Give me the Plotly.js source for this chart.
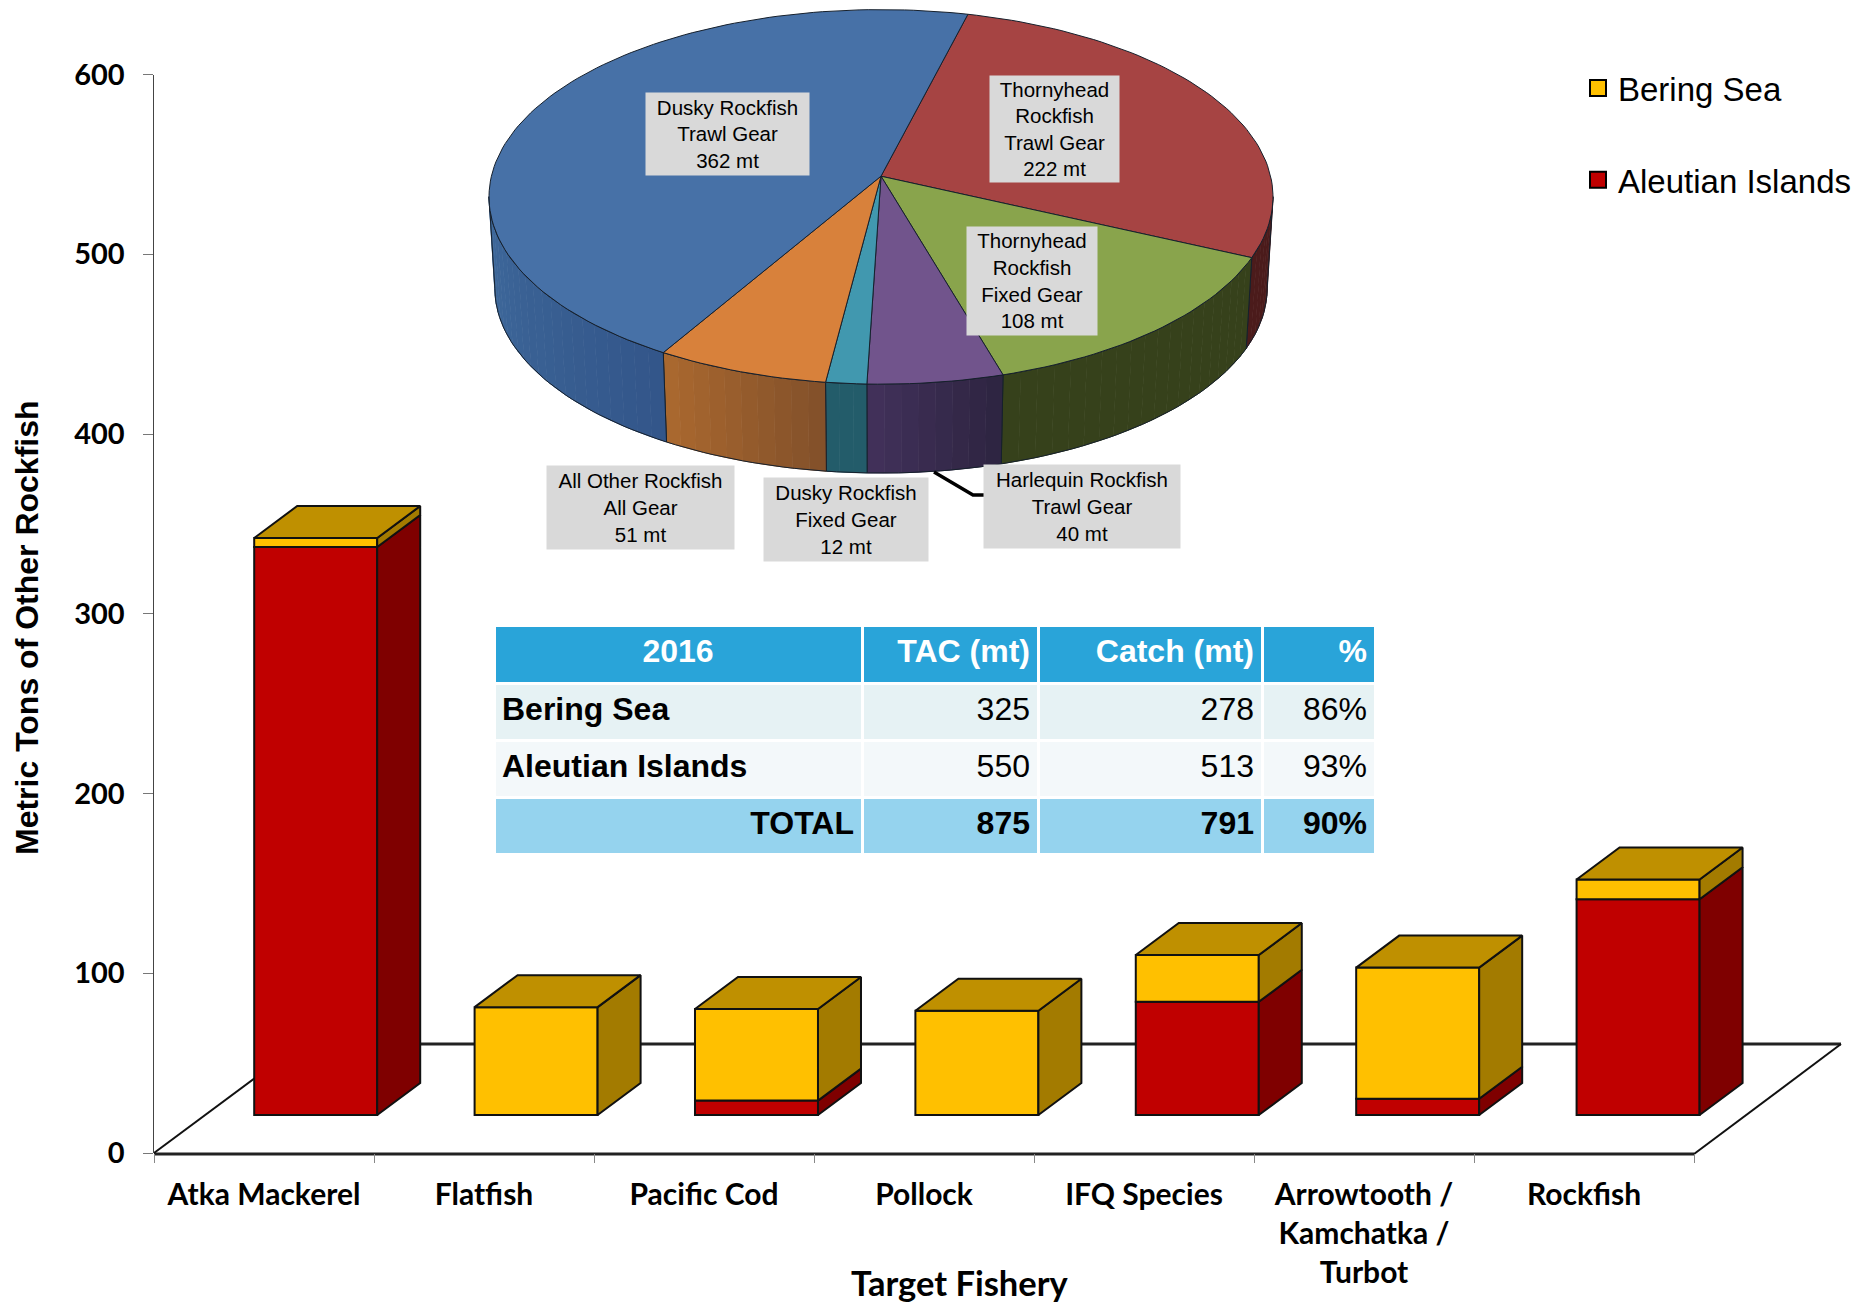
<!DOCTYPE html>
<html><head><meta charset="utf-8">
<script src="https://cdn.plot.ly/plotly-3.0.1.min.js"></script>
<style>html,body{margin:0;padding:0;background:#fff}#c{width:1854px;height:1303px}</style>
</head><body><div id="c"></div>
<script>
// ---- data ----
const categories = ["Atka Mackerel","Flatfish","Pacific Cod","Pollock","IFQ Species","Arrowtooth /<br>Kamchatka /<br>Turbot","Rockfish"];
const aleutian = [316, 0, 8, 0, 63, 9, 120];
const bering   = [5, 60, 51, 58, 26, 73, 11];
const pieNames  = ["Thornyhead<br>Rockfish<br>Trawl Gear","Thornyhead<br>Rockfish<br>Fixed Gear","Harlequin Rockfish<br>Trawl Gear","Dusky Rockfish<br>Fixed Gear","All Other Rockfish<br>All Gear","Dusky Rockfish<br>Trawl Gear"];
const pieValues = [222, 108, 40, 12, 51, 362];
const pieTop    = ["#A64443","#89A44C","#71548C","#4198AF","#D8813B","#4771A7"];
const pieSideA  = ["#4B1B1B","#36411B","#2D2440","#235C6A","#82502A","#33568A"];
const pieSideB  = ["#4B1B1B","#36411B","#42315B","#235C6A","#AB692F","#3F6A9C"];
const tableHead = ["<b>2016</b>","<b>TAC (mt)</b>","<b>Catch (mt)</b>","<b>%</b>"];
const tableRows = ["<b>Bering Sea</b>","<b>Aleutian Islands</b>","<b>TOTAL</b>"];
const tableTac   = ["<span>325</span>","<span>550</span>","<b>875</b>"];
const tableCatch = ["<span>278</span>","<span>513</span>","<b>791</b>"];
const tablePct   = ["<span>86%</span>","<span>93%</span>","<b>90%</b>"];
const yTicks = [0,100,200,300,400,500,600];

// ---- drawing parameters ----
const W=1854,H=1303, AX0=154,AX1=1694,AXEND=1845,AY0=1153,AY1=74.5;
const RED="#C00000",YEL="#FFC000",TOP="#BF9000",SIDEY="#A37B00",SIDER="#7F0000";
const xu=(AX1-AX0)/7, yu=(AY0-AY1)/600;
const barW=123/xu, barL=(254.2-AX0)/xu, base0=(AY0-1115)/yu, step=1.0018;
const depthX=43/xu, depthY=32/yu;

const traces=[];
const edge={color:"#111",width:2};
const idx=categories.map((_,i)=>i);
const xc=idx.map(i=>i*step+barL+barW/2);

// front faces: real stacked bars
traces.push({type:"bar",x:xc,y:aleutian,base:idx.map(()=>base0),width:barW,name:"Aleutian Islands",
  marker:{color:RED,line:edge},showlegend:false,hoverinfo:"skip"});
traces.push({type:"bar",x:xc,y:bering,base:aleutian.map(v=>base0+v),width:barW,name:"Bering Sea",
  marker:{color:YEL,line:edge},showlegend:false,hoverinfo:"skip"});

function poly(xs,ys,fill,line,xa,ya,lw){
  traces.push({type:"scatter",mode:"lines",x:xs,y:ys,fill:"toself",fillcolor:fill,
    line:{color:line,width:lw===undefined?2:lw},showlegend:false,hoverinfo:"skip",xaxis:xa||"x",yaxis:ya||"y"});
}
// 3-D sides and tops
idx.forEach(i=>{
  const l=barL+i*step, r=l+barW, a=base0, b=base0+aleutian[i], c=b+bering[i];
  if(aleutian[i]>0) poly([r,r+depthX,r+depthX,r,r],[a,a+depthY,b+depthY,b,a],SIDER,"#111");
  if(bering[i]>0)   poly([r,r+depthX,r+depthX,r,r],[b,b+depthY,c+depthY,c,b],SIDEY,"#111");
  poly([l,l+depthX,r+depthX,r,l],[c,c+depthY,c+depthY,c,c],TOP,"#111");
});

// legend entries
traces.push({type:"scatter",mode:"markers",x:[null],y:[null],name:"Bering Sea",legendgroup:"a",
  marker:{symbol:"square",size:16,color:YEL,line:{color:"#000",width:2}}});
traces.push({type:"scatter",mode:"markers",x:[null],y:[null],name:"Aleutian Islands",legendgroup:"b",
  marker:{symbol:"square",size:16,color:RED,line:{color:"#000",width:2}}});

// ---- perspective pie, computed from the values ----
const PCX=881,PCY=176.2,PA=389.6,PB=185,PK=0.1104,PS=0.985,PD=92;
function rim(deg,bottom){
  const t=deg*Math.PI/180, x=Math.sin(t), w=Math.cos(t), d=1+PK*w;
  const s=bottom?PS:1, o=bottom?PD:0;
  return [PCX+s*PA*x/d, PCY+o-s*PB*w/d];
}
function arc(a,b,bottom){
  const n=Math.max(2,Math.ceil(Math.abs(b-a)/1.5)),out=[];
  for(let i=0;i<=n;i++) out.push(rim(a+(b-a)*i/n,bottom));
  return out;
}
function mix(c1,c2,t){
  const p=(c,i)=>parseInt(c.substr(i,2),16);
  const f=i=>Math.round(p(c1,i)+(p(c2,i)-p(c1,i))*t);
  return `rgb(${f(1)},${f(3)},${f(5)})`;
}
const pieSum=pieValues.reduce((a,b)=>a+b,0);
let ang=14.3; const spans=[];
pieValues.forEach(v=>{const d=360*v/pieSum; spans.push([ang,ang+d]); ang+=d;});
// side wall (front half only is visible)
spans.forEach((sp,i)=>{
  const a=Math.max(sp[0],96.3), b=Math.min(sp[1],263.7);
  if(b<=a) return;
  const n=Math.max(1,Math.ceil((b-a)/2.5));
  for(let k=0;k<n;k++){
    const u=a+(b-a)*k/n, v=a+(b-a)*(k+1)/n;
    const pts=arc(u,v,false).concat(arc(v,u,true));
    const col=mix(pieSideA[i],pieSideB[i],(k+0.5)/n);
    poly(pts.map(p=>p[0]),pts.map(p=>p[1]),col,col,"x2","y2",1);
  }
  const o=arc(a,b,false).concat(arc(b,a,true)); o.push(o[0]);
  traces.push({type:"scatter",mode:"lines",x:o.map(p=>p[0]),y:o.map(p=>p[1]),line:{color:"#16202c",width:1},
    showlegend:false,hoverinfo:"skip",xaxis:"x2",yaxis:"y2"});
});
// top surface
spans.forEach((sp,i)=>{
  const pts=[[PCX,PCY]].concat(arc(sp[0],sp[1],false)); pts.push([PCX,PCY]);
  poly(pts.map(p=>p[0]),pts.map(p=>p[1]),pieTop[i],"#16202c","x2","y2",1);
});

// ---- table ----
traces.push({type:"table",
  domain:{x:[494/W,1375/W],y:[1-859/H,1-625/H]},
  columnwidth:[368,176,224,113],
  header:{values:tableHead,height:58,align:["center","right","right","right"],
    fill:{color:"#29A4D9"},line:{color:"#fff",width:3},
    font:{family:"Liberation Sans",size:32,color:"#fff"}},
  cells:{values:[tableRows,tableTac,tableCatch,tablePct],height:57,
    align:[["left","left","right"],"right","right","right"],
    fill:{color:[["#E6F2F4","#F3F8FA","#95D3EE"]]},line:{color:"#fff",width:3},
    font:{family:"Liberation Sans",size:32,color:"#000"}}
});

// ---- annotations ----
const boxes=[[1054,129,129,106],[1032,281,130,107.6],[1082,506,196,83],[846,519,164,83],[640,507,187,83],[727,134,163,81.6]];
const annotations=pieNames.map((n,i)=>({xref:"x2",yref:"y2",x:boxes[i][0],y:boxes[i][1],text:n+"<br>"+pieValues[i]+" mt",
  showarrow:false,width:boxes[i][2],height:boxes[i][3],bgcolor:"#D9D9D9",borderpad:0,align:"center",valign:"middle",
  font:{family:"Liberation Sans",size:20.5,color:"#000"}}));
annotations.push({xref:"x2",yref:"y2",x:27,y:628,text:"Metric Tons of Other Rockfish",textangle:-90,showarrow:false,
  font:{family:"Liberation Sans",size:32,weight:700,color:"#000"}});
annotations.push({xref:"x2",yref:"y2",x:960,y:1282,text:"Target Fishery",showarrow:false,
  font:{family:"Lato",size:34.5,weight:700,color:"#000"}});

// floor of the 3-D box and the category axis line, in figure fractions
const FX=147,FY=109;
const fx=p=>p/W, fy=p=>1-p/H;
const layout={
  width:W,height:H,margin:{l:0,r:0,t:0,b:0,autoexpand:false},paper_bgcolor:"#fff",plot_bgcolor:"rgba(0,0,0,0)",
  barmode:"overlay",hovermode:false,
  showlegend:true,
  legend:{x:1578/W,y:1-60/H,xanchor:"left",yanchor:"top",tracegroupgap:46,itemwidth:30,bgcolor:"rgba(0,0,0,0)",
    font:{family:"Liberation Sans",size:33,color:"#000"}},
  xaxis:{domain:[AX0/W,AXEND/W],range:[0,(AXEND-AX0)/xu],showgrid:false,zeroline:false,
    tickvals:idx.map(i=>i+0.5),ticktext:categories,ticks:"",ticklabelstandoff:21,tickangle:0,
    tickfont:{family:"Lato",size:30,weight:700,color:"#000"},
    showline:false,
    minor:{tickvals:[0,1,2,3,4,5,6,7],ticks:"outside",ticklen:9,tickcolor:"#888",tickwidth:1,showgrid:false}},
  yaxis:{domain:[1-AY0/H,1-AY1/H],range:[0,600],showgrid:false,zeroline:false,tickvals:yTicks,
    ticks:"outside",ticklen:10,tickcolor:"#777",tickwidth:1,showline:true,linecolor:"#444",linewidth:1.5,
    ticklabelstandoff:12,tickfont:{family:"Lato",size:29,weight:700,color:"#000"}},
  xaxis2:{domain:[0,1],range:[0,W],visible:false,anchor:"y2",fixedrange:true},
  yaxis2:{domain:[0,1],range:[H,0],visible:false,anchor:"x2",fixedrange:true},
  shapes:[
    {type:"line",xref:"paper",yref:"paper",layer:"below",x0:fx(AX0),y0:fy(AY0+1),x1:fx(AX1),y1:fy(AY0+1),line:{color:"#222",width:3}},
    {type:"line",xref:"paper",yref:"paper",layer:"below",x0:fx(AX0),y0:fy(AY0),x1:fx(AX0+FX),y1:fy(AY0-FY),line:{color:"#111",width:2}},
    {type:"line",xref:"paper",yref:"paper",layer:"below",x0:fx(AX0+FX),y0:fy(AY0-FY),x1:fx(AX1+FX),y1:fy(AY0-FY),line:{color:"#222",width:3}},
    {type:"line",xref:"paper",yref:"paper",layer:"below",x0:fx(AX1+FX),y0:fy(AY0-FY),x1:fx(AX1),y1:fy(AY0+1),line:{color:"#111",width:2}},
    {type:"path",xref:"x2",yref:"y2",path:"M934,472 L973,495 L984,495",line:{color:"#000",width:3.5}}
  ],
  annotations:annotations
};
Plotly.newPlot("c",traces,layout,{staticPlot:true,displayModeBar:false});
</script></body></html>
